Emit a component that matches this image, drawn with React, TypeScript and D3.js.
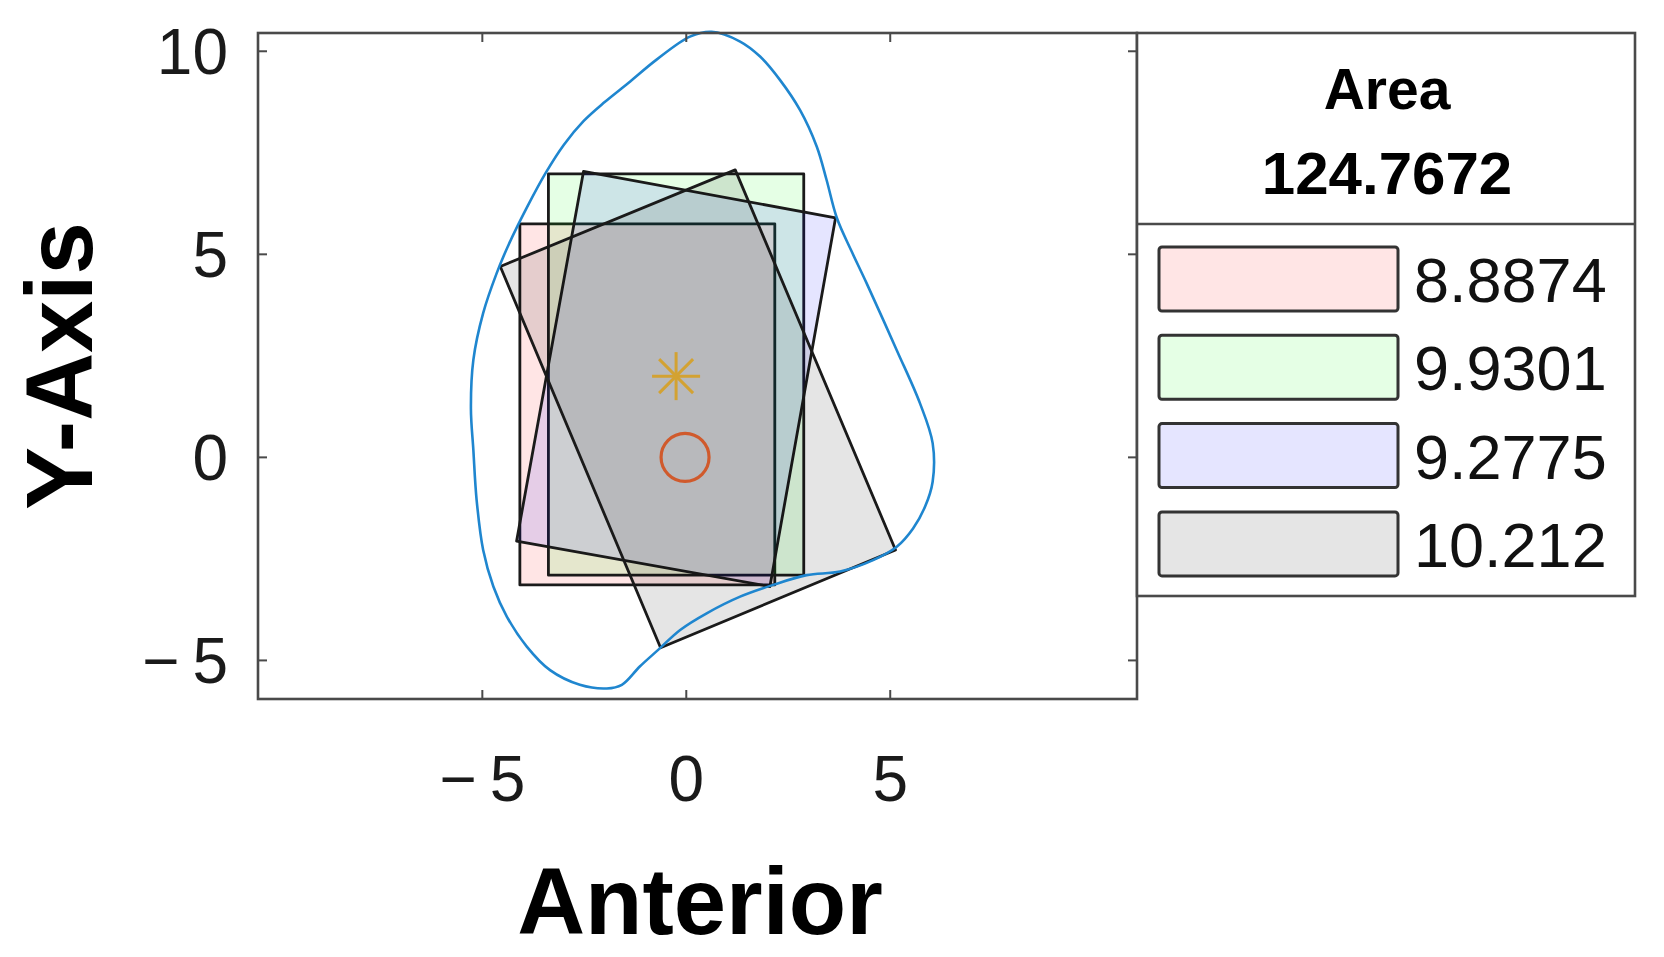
import React from 'react'
import * as d3 from 'd3'

// tick values
const xTicks = [-5, 0, 5]
const yTicks = [-5, 0, 5, 10]

// legend text
const areaTitle = 'Area'
const areaValue = '124.7672'
const boxLabels = ['8.8874', '9.9301', '9.2775', '10.212']
const boxColors = ['#ff0000', '#00ff00', '#0000ff', '#000000']

// rectangles (corner points in data units)
const rectPink = [[-4.08, -3.14], [2.17, -3.14], [2.17, 5.75], [-4.08, 5.75]]
const rectGreen = [[-3.38, -2.9], [2.88, -2.9], [2.88, 6.98], [-3.38, 6.98]]
const rectBlue = [[-2.52, 7.04], [3.66, 5.9], [2.05, -3.18], [-4.16, -2.06]]
const rectGray = [[1.2, 7.08], [5.13, -2.28], [-0.63, -4.69], [-4.56, 4.7]]
const rects = [rectPink, rectGreen, rectBlue, rectGray]

// outline of the region, clockwise from the top
const contourX = [0.62, 1.32, 1.81, 2.3, 2.79, 3.2, 3.44, 3.69, 4.05, 4.42, 5.16, 5.73, 6.04, 6.04, 5.86, 5.56, 5.16, 4.58, 3.77, 2.95, 2.13, 1.32, 0.5, -0.15, -0.69, -1.14, -1.58, -1.95, -2.61, -3.34, -3.91, -4.4, -4.73, -4.98, -5.14, -5.22, -5.28, -5.22, -4.98, -4.65, -4.35, -3.91, -3.45, -3.0, -2.52, -2.0, -1.42, -0.72, 0.09]
const contourY = [10.48, 10.24, 9.87, 9.29, 8.55, 7.65, 6.83, 5.9, 5.08, 4.29, 2.64, 1.33, 0.35, -0.6, -1.2, -1.75, -2.2, -2.53, -2.81, -2.9, -3.14, -3.43, -3.84, -4.25, -4.74, -5.15, -5.6, -5.69, -5.6, -5.24, -4.66, -3.92, -3.18, -2.28, -1.05, 0.18, 1.2, 2.4, 3.55, 4.53, 5.25, 6.15, 7.0, 7.7, 8.28, 8.75, 9.22, 9.8, 10.36]

const centroid = [-0.25, 2.0]
const origin = [-0.03, 0]

const W = 1664
const H = 957
const left = 258
const right = 1137
const top = 33
const bottom = 699

const App = () => {
  const x = d3.scaleLinear().domain([-10.5, 11.05]).range([left, right])
  const y = d3.scaleLinear().domain([-5.95, 10.45]).range([bottom, top])

  const poly = d3
    .line<number[]>()
    .x((d) => x(d[0]))
    .y((d) => y(d[1]))
    .curve(d3.curveLinearClosed)

  const contourPts = contourX.map((v, i) => [v, contourY[i]])
  const contour = d3
    .line<number[]>()
    .x((d) => x(d[0]))
    .y((d) => y(d[1]))
    .curve(d3.curveCatmullRomClosed.alpha(0.5))

  const fmt = (v: number) => (v < 0 ? '\u2212\u2009' + Math.abs(v) : String(v))
  const axisColor = '#4a4a4a'
  const tickLen = 9

  // legend layout
  const lgLeft = right
  const lgRight = 1635
  const lgDivider = 224
  const lgBottom = 596
  const rowY = d3.scaleLinear().domain([0, 1]).range([247, 335.3])
  const swH = 64

  const cx = x(centroid[0])
  const cy = y(centroid[1])
  const r = 24
  const spokes = d3.range(4).map((i) => (i * Math.PI) / 4)

  return (
    <svg width={W} height={H} style={{ position: 'absolute', left: 0, top: 0, background: '#fff' }}
      fontFamily="'Liberation Sans', Arial, sans-serif">
      <rect x={0} y={0} width={W} height={H} fill="#fff" />

      {rects.map((rc, i) => (
        <path key={i} d={poly(rc) as string} fill={boxColors[i]} fillOpacity={0.1} stroke="#1a1a1a" strokeWidth={2.8}
          strokeLinejoin="round" />
      ))}

      <path d={contour(contourPts) as string} fill="none" stroke="#1f86cf" strokeWidth={2.6} />

      {spokes.map((a, i) => (
        <line key={i} x1={cx - r * Math.cos(a)} y1={cy - r * Math.sin(a)} x2={cx + r * Math.cos(a)} y2={cy + r * Math.sin(a)}
          stroke="#d3a232" strokeWidth={3} />
      ))}
      <circle cx={x(origin[0])} cy={y(origin[1])} r={24} fill="none" stroke="#d05a2c" strokeWidth={3.2} />

      {/* axes box */}
      <rect x={left} y={top} width={right - left} height={bottom - top} fill="none" stroke={axisColor} strokeWidth={2.6} />
      {xTicks.map((t) => (
        <g key={'x' + t}>
          <line x1={x(t)} x2={x(t)} y1={bottom} y2={bottom - tickLen} stroke={axisColor} strokeWidth={2} />
          <line x1={x(t)} x2={x(t)} y1={top} y2={top + tickLen} stroke={axisColor} strokeWidth={2} />
          <text x={x(t)} y={801} textAnchor="middle" fontSize={64} fill="#1a1a1a">{fmt(t)}</text>
        </g>
      ))}
      {yTicks.map((t) => (
        <g key={'y' + t}>
          <line x1={left} x2={left + tickLen} y1={y(t)} y2={y(t)} stroke={axisColor} strokeWidth={2} />
          <line x1={right} x2={right - tickLen} y1={y(t)} y2={y(t)} stroke={axisColor} strokeWidth={2} />
          <text x={228} y={y(t) + 23} textAnchor="end" fontSize={64} fill="#1a1a1a">{fmt(t)}</text>
        </g>
      ))}

      <text x={700} y={934} textAnchor="middle" fontSize={94} fontWeight="bold" fill="#000">Anterior</text>
      <text transform="translate(92,366) rotate(-90)" textAnchor="middle" fontSize={94} fontWeight="bold" fill="#000">Y-Axis</text>

      {/* legend */}
      <rect x={lgLeft} y={top} width={lgRight - lgLeft} height={lgBottom - top} fill="#fff" stroke={axisColor} strokeWidth={2.6} />
      <line x1={lgLeft} x2={lgRight} y1={lgDivider} y2={lgDivider} stroke={axisColor} strokeWidth={2.6} />
      <text x={1387} y={109} textAnchor="middle" fontSize={57} fontWeight="bold" fill="#000">{areaTitle}</text>
      <text x={1387} y={194} textAnchor="middle" fontSize={60} fontWeight="bold" fill="#000">{areaValue}</text>
      {boxLabels.map((lb, i) => (
        <g key={lb}>
          <rect x={1159} y={rowY(i)} width={239} height={swH} rx={3} fill={boxColors[i]} fillOpacity={0.1}
            stroke="#333" strokeWidth={3} />
          <text x={1414} y={rowY(i) + swH / 2 + 23} fontSize={63} fill="#111">{lb}</text>
        </g>
      ))}
    </svg>
  )
}

export default App
